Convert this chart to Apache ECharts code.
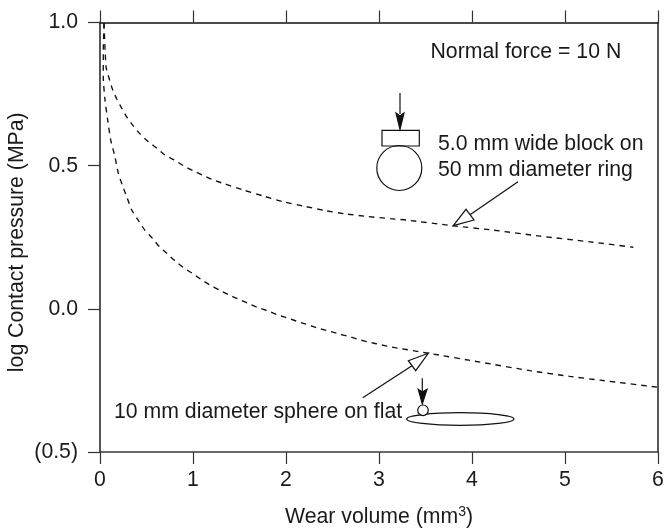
<!DOCTYPE html>
<html><head><meta charset="utf-8">
<style>html,body{margin:0;padding:0;background:#fff}#c{width:664px;height:528px}</style>
<script src="https://cdn.jsdelivr.net/npm/echarts@6/dist/echarts.min.js"></script>
</head><body><div id="c"></div>
<script>
const blockOnRing = [[0.043,0.998],[0.065,0.845],[0.097,0.806],[0.137,0.764],[0.18,0.733],[0.233,0.701],[0.287,0.67],[0.358,0.639],[0.43,0.611],[0.519,0.584],[0.61,0.561],[0.699,0.537],[0.799,0.52],[0.896,0.5],[1.003,0.482],[1.111,0.466],[1.218,0.45],[1.326,0.438],[1.541,0.415],[1.756,0.394],[1.971,0.374],[2.186,0.359],[2.419,0.343],[2.653,0.331],[2.885,0.322],[3.118,0.315],[3.298,0.31],[3.799,0.29],[4.226,0.275],[4.731,0.254],[5.269,0.234],[5.735,0.215]];
const sphereOnFlat = [[0.043,0.998],[0.035,0.893],[0.035,0.811],[0.054,0.729],[0.083,0.659],[0.115,0.59],[0.161,0.531],[0.197,0.473],[0.24,0.432],[0.287,0.392],[0.341,0.345],[0.423,0.304],[0.484,0.274],[0.565,0.246],[0.638,0.217],[0.724,0.192],[0.806,0.168],[0.896,0.144],[0.992,0.124],[1.086,0.103],[1.183,0.083],[1.283,0.066],[1.39,0.048],[1.495,0.033],[1.595,0.019],[1.702,0.004],[1.81,-0.008],[1.917,-0.022],[2.025,-0.033],[2.132,-0.045],[2.24,-0.056],[2.347,-0.068],[2.455,-0.077],[2.573,-0.088],[2.681,-0.097],[2.788,-0.108],[2.903,-0.117],[3.011,-0.125],[3.111,-0.132],[3.53,-0.155],[4.086,-0.186],[4.624,-0.216],[5.054,-0.236],[5.376,-0.249],[6,-0.274]];
const xRange = [0, 6];
const yRange = [-0.5, 1];
const yTickText = {'-0.5':'(0.5)','0':'0.0','0.5':'0.5','1':'1.0'};
const xTitle = 'Wear volume (mm';
const yTitle = 'log Contact pressure (MPa)';
const noteForce = 'Normal force = 10 N';
const noteBlock = ['5.0 mm wide block on','50 mm diameter ring'];
const noteSphere = '10 mm diameter sphere on flat';

const FONT = '"Liberation Sans", Arial, sans-serif';
const INK = '#1a1a1a';
const FS = 21.25;
const chart = echarts.init(document.getElementById('c'), null, {renderer:'canvas'});

const stroke = {stroke:'#111', lineWidth:1.2, fill:'none'};
const text = (t,x,y) => ({type:'text', x, y, z:10, style:{text:t, font:FS+'px '+FONT, fill:INK, textVerticalAlign:'bottom'}});
const line = (x1,y1,x2,y2) => ({type:'line', z:10, shape:{x1,y1,x2,y2}, style:{stroke:'#111', lineWidth:1.2}});
const poly = (points,fill) => ({type:'polygon', z:10, shape:{points}, style:{stroke:'#111', lineWidth:1.2, fill}});

const series = [blockOnRing, sphereOnFlat].map(d => ({
  type:'line', data:d, showSymbol:false, smooth:0.2, clip:false, silent:true,
  lineStyle:{color:'#111', width:1.35, type:[5.5,5]}
}));

chart.setOption({
  animation:false,
  backgroundColor:'#fff',
  grid:{left:100, right:6, top:22.5, bottom:76, containLabel:false, outerBoundsMode:'none'},
  xAxis:[{
    type:'value', position:'bottom', min:xRange[0], max:xRange[1], interval:1,
    axisLine:{show:true, onZero:false, lineStyle:{color:'#3a3a3a', width:1.5}},
    axisTick:{show:true, inside:false, length:12, lineStyle:{color:'#333', width:1.2}},
    axisLabel:{color:INK, fontFamily:FONT, fontSize:FS, margin:18, showMinLabel:true, showMaxLabel:true},
    splitLine:{show:false},
    name:'{a|'+xTitle+'}{s|3}{a|)}', nameLocation:'middle', nameGap:53, nameMoveOverlap:false,
    nameTextStyle:{rich:{a:{fontFamily:FONT, fontSize:FS, color:INK}, s:{fontFamily:FONT, fontSize:14, color:INK, verticalAlign:'top', padding:[0,0,10,0]}}}
  },{
    type:'value', position:'top', min:xRange[0], max:xRange[1], interval:1,
    axisLine:{show:true, onZero:false, lineStyle:{color:'#111', width:1.5}},
    axisTick:{show:true, length:12, lineStyle:{color:'#333', width:1.2}},
    axisLabel:{show:false}, splitLine:{show:false}
  }],
  yAxis:[{
    type:'value', position:'left', min:yRange[0], max:yRange[1], interval:0.5,
    axisLine:{show:true, onZero:false, lineStyle:{color:'#555', width:2}},
    axisTick:{show:true, length:12, lineStyle:{color:'#333', width:1.2}},
    axisLabel:{color:INK, fontFamily:FONT, fontSize:FS, margin:22, formatter:v=>yTickText[String(v)]},
    splitLine:{show:false},
    name:yTitle, nameLocation:'middle', nameGap:72, nameMoveOverlap:false,
    nameTextStyle:{fontFamily:FONT, fontSize:FS, color:INK, padding:[0,10,0,0]}
  },{
    type:'value', position:'right', min:yRange[0], max:yRange[1], interval:0.5,
    axisLine:{show:true, onZero:false, lineStyle:{color:'#222', width:1.5}},
    axisTick:{show:false}, axisLabel:{show:false}, splitLine:{show:false}
  }],
  series,
  graphic:[
    text(noteForce,430.5,63),
    text(noteBlock[0],438,154.5),
    text(noteBlock[1],438,180.5),
    text(noteSphere,114,423),
    line(400,93,400,114),
    poly([[400,129.5],[396,113],[400,116],[404,113]],'#111'),
    {type:'rect', z:10, shape:{x:382,y:130.3,width:37.3,height:15.7}, style:stroke},
    {type:'circle', z:10, shape:{cx:399.3,cy:168,r:22.5}, style:stroke},
    line(518,181.7,470,214.7),
    poly([[453.3,225.7],[466,209.3],[474,220]],'#fff'),
    line(362.7,397.7,412,365.7),
    poly([[428.3,353.3],[408.3,360.7],[415.7,370.7]],'#fff'),
    line(422.3,378.3,422.3,392),
    poly([[422.3,404],[418.3,389.3],[422.3,392],[427,389.3]],'#111'),
    {type:'ellipse', z:10, shape:{cx:460.3,cy:419,rx:53.7,ry:6.3}, style:{stroke:'#111',lineWidth:1.2,fill:'#fff'}},
    {type:'circle', z:11, shape:{cx:423,cy:410.3,r:5.3}, style:{stroke:'#111',lineWidth:1.2,fill:'#fff'}}
  ]
});
</script></body></html>
